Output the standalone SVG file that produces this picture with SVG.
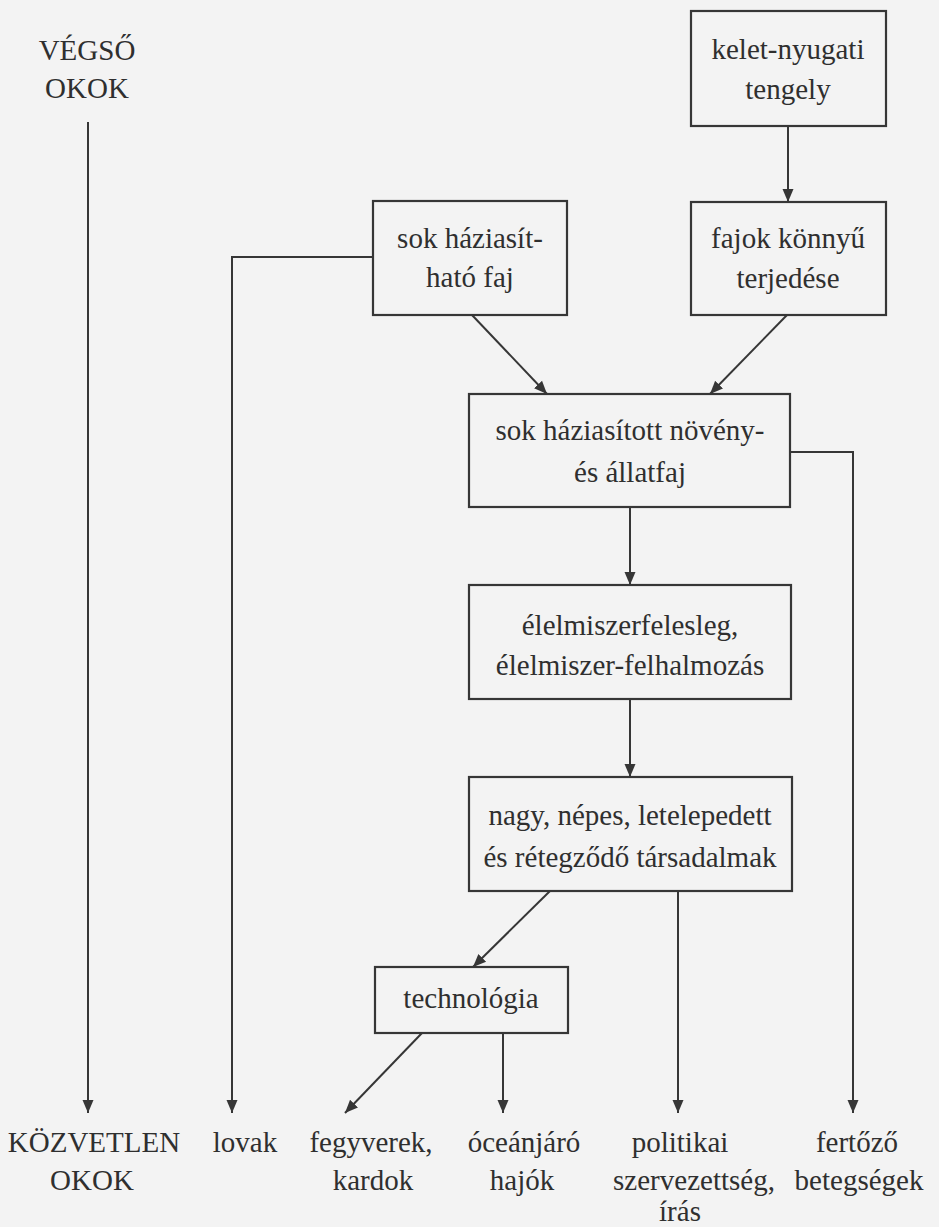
<svg xmlns="http://www.w3.org/2000/svg" width="939" height="1227" viewBox="0 0 939 1227">
<style>
.box{fill:none;stroke:#363636;stroke-width:2.2}
.t{font-family:"Liberation Serif","DejaVu Serif",serif;font-size:29px;fill:#2f2f2f;text-anchor:middle}
.c{fill:none;stroke:#363636;stroke-width:2}
</style>
<defs>
<marker id="ah" markerUnits="userSpaceOnUse" markerWidth="14" markerHeight="14" viewBox="0 0 14 14" refX="13" refY="7" orient="auto">
<path d="M0,1.5 L13,7 L0,12.5 Z" fill="#363636"/>
</marker>
</defs>
<rect width="939" height="1227" fill="#f3f3f3"/>
<g id="label-vegso">
<text class="t" x="87" y="60">VÉGSŐ</text>
<text class="t" x="87" y="98">OKOK</text>
</g>
<g id="kelet-nyugati">
<rect class="box" x="691" y="11" width="195" height="115"/>
<text class="t" x="788" y="59">kelet-nyugati</text>
<text class="t" x="788" y="99">tengely</text>
</g>
<g id="sok-haziasithato">
<rect class="box" x="373" y="201" width="194" height="114"/>
<text class="t" x="470" y="248">sok háziasít-</text>
<text class="t" x="470" y="287">ható faj</text>
</g>
<g id="fajok-terjedese">
<rect class="box" x="691" y="202" width="195" height="113"/>
<text class="t" x="788" y="248">fajok könnyű</text>
<text class="t" x="788" y="288">terjedése</text>
</g>
<g id="sok-haziasitott">
<rect class="box" x="469" y="394" width="321" height="113"/>
<text class="t" x="630" y="440">sok háziasított növény-</text>
<text class="t" x="630" y="482">és állatfaj</text>
</g>
<g id="elelmiszer">
<rect class="box" x="469" y="585" width="322" height="114"/>
<text class="t" x="630" y="635">élelmiszerfelesleg,</text>
<text class="t" x="630" y="675">élelmiszer-felhalmozás</text>
</g>
<g id="tarsadalmak">
<rect class="box" x="469" y="777" width="323" height="114"/>
<text class="t" x="630" y="825">nagy, népes, letelepedett</text>
<text class="t" x="630" y="867">és rétegződő társadalmak</text>
</g>
<g id="technologia">
<rect class="box" x="375" y="967" width="193" height="66"/>
<text class="t" x="471" y="1008">technológia</text>
</g>
<g id="label-kozvetlen">
<text class="t" x="94" y="1152">KÖZVETLEN</text>
<text class="t" x="92" y="1190">OKOK</text>
</g>
<g id="lovak"><text class="t" x="245" y="1152">lovak</text></g>
<g id="fegyverek">
<text class="t" x="371" y="1152">fegyverek,</text>
<text class="t" x="373" y="1190">kardok</text>
</g>
<g id="oceanjaro">
<text class="t" x="524" y="1152">óceánjáró</text>
<text class="t" x="522" y="1190">hajók</text>
</g>
<g id="politikai">
<text class="t" x="680" y="1152">politikai</text>
<text class="t" x="694" y="1190">szervezettség,</text>
<text class="t" x="680" y="1221">írás</text>
</g>
<g id="fertozo">
<text class="t" x="857" y="1152">fertőző</text>
<text class="t" x="859" y="1190">betegségek</text>
</g>
<g id="connectors">
<path class="c" d="M88,122 V1113" marker-end="url(#ah)"/>
<path class="c" d="M788,126 V202" marker-end="url(#ah)"/>
<path class="c" d="M472,315 L547,394" marker-end="url(#ah)"/>
<path class="c" d="M787,315 L710,394" marker-end="url(#ah)"/>
<path class="c" d="M630,507 V585" marker-end="url(#ah)"/>
<path class="c" d="M630,699 V777" marker-end="url(#ah)"/>
<path class="c" d="M790,452 H853 V1113" marker-end="url(#ah)"/>
<path class="c" d="M550,891 L473,967" marker-end="url(#ah)"/>
<path class="c" d="M678,891 V1113" marker-end="url(#ah)"/>
<path class="c" d="M422,1033 L345,1113" marker-end="url(#ah)"/>
<path class="c" d="M503,1033 V1113" marker-end="url(#ah)"/>
<path class="c" d="M373,257 H232 V1113" marker-end="url(#ah)"/>
</g>
</svg>
